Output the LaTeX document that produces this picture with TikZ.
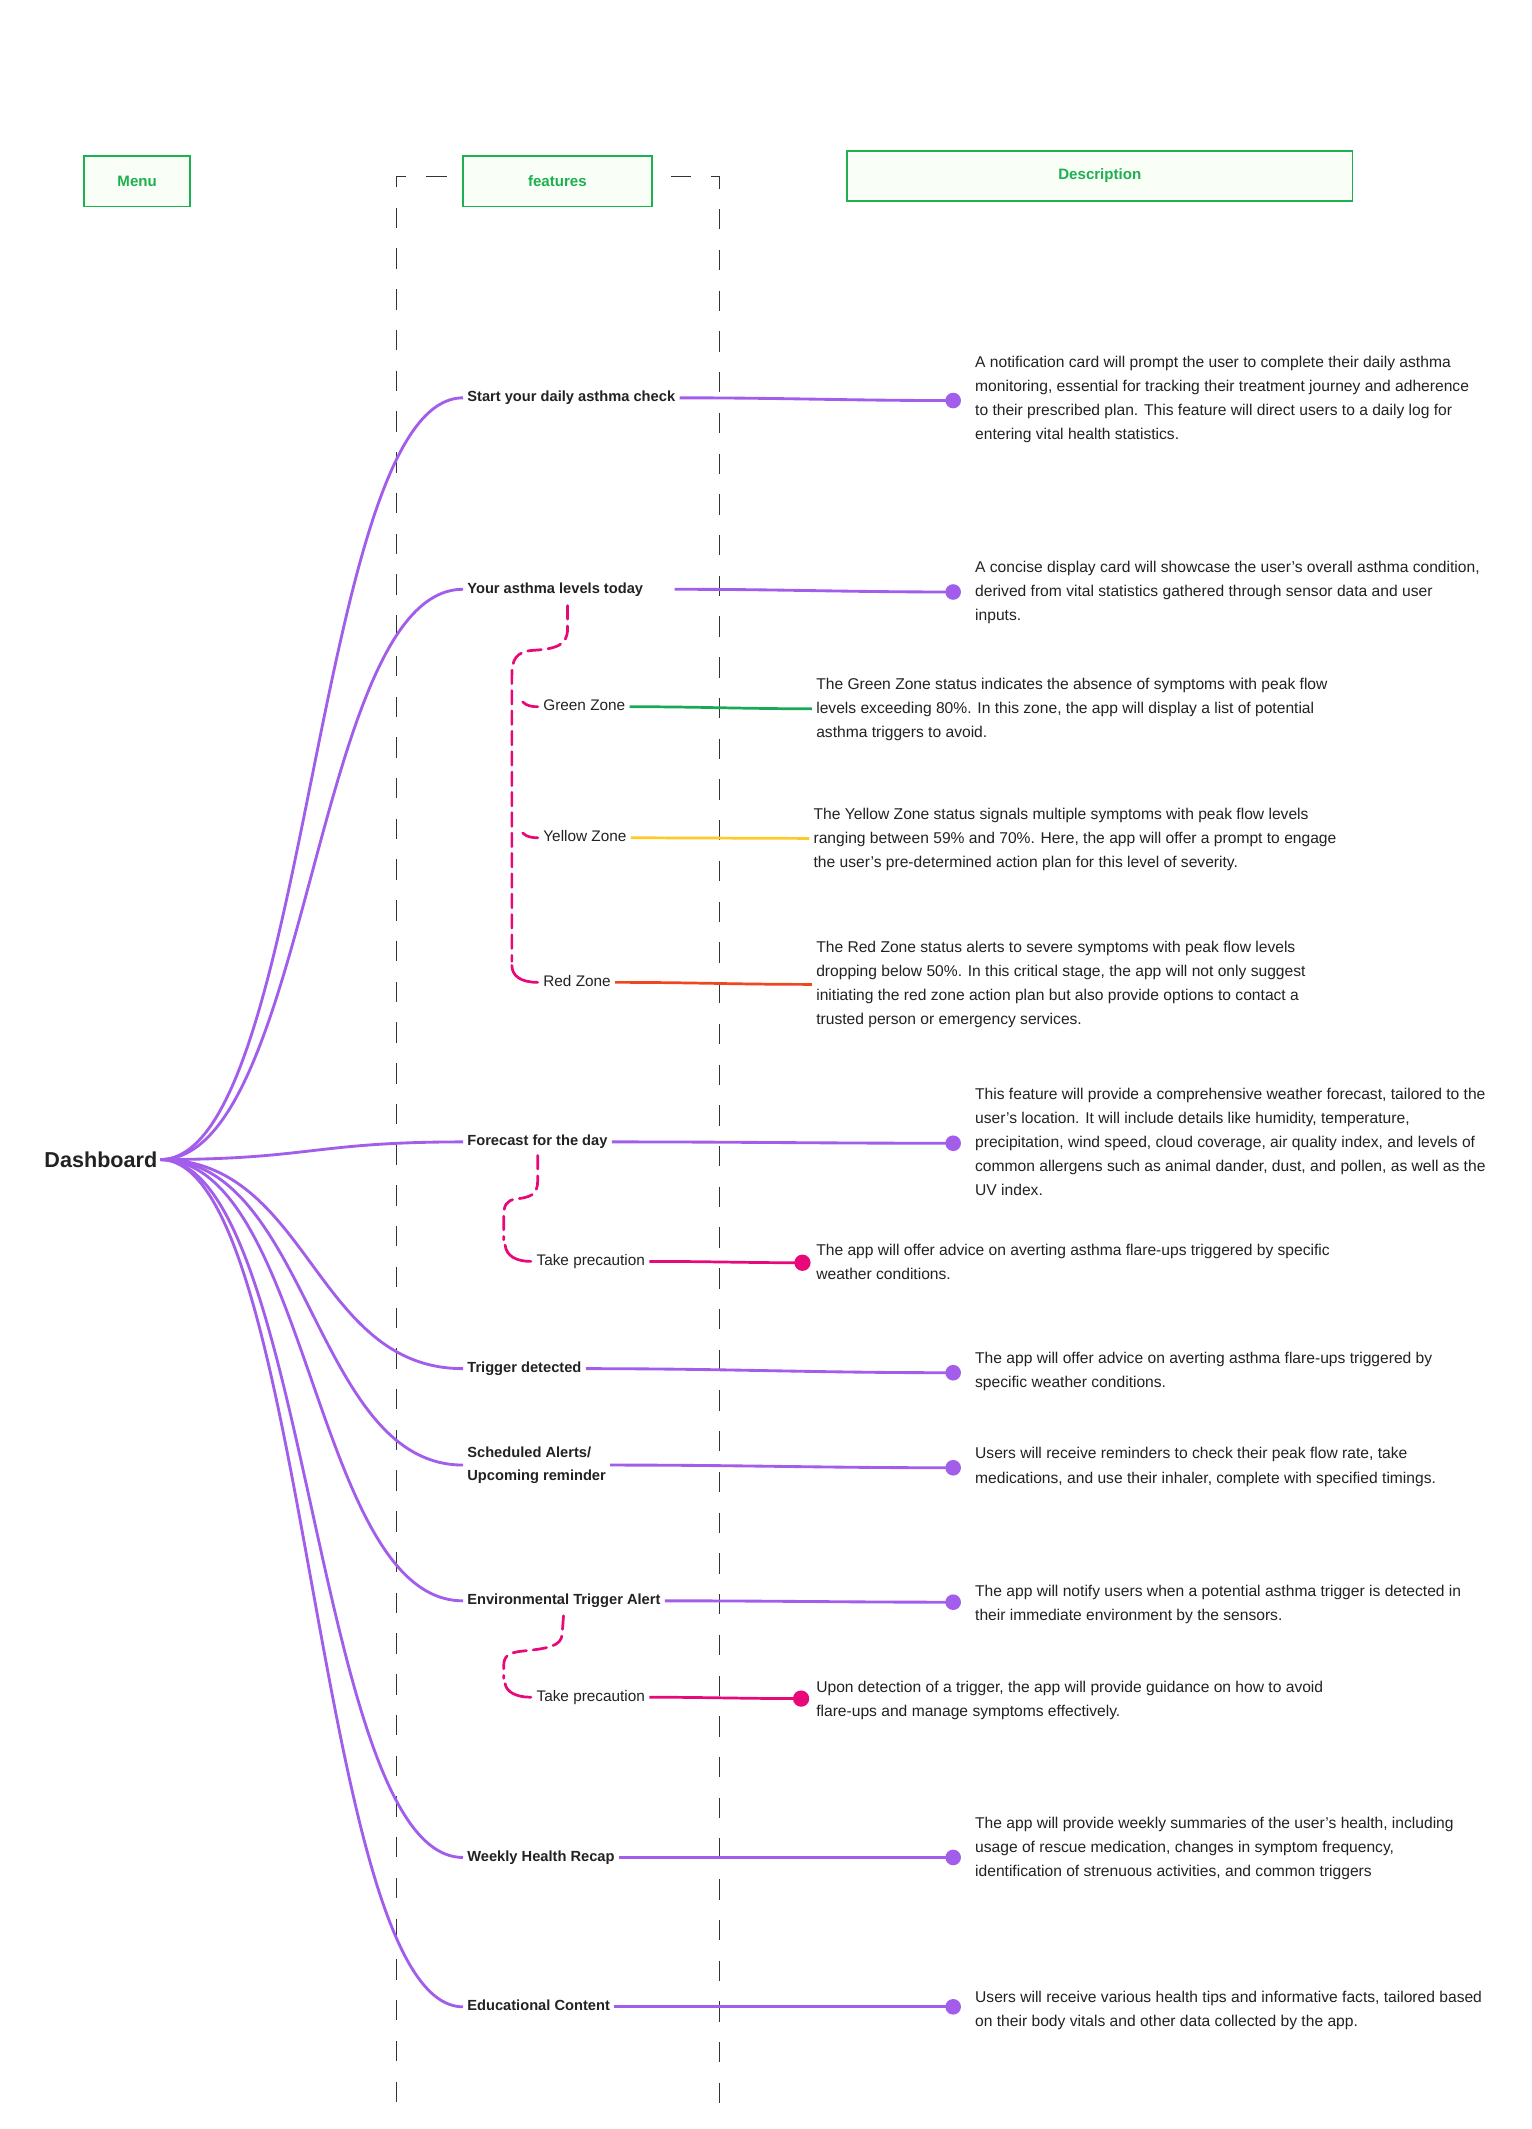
\documentclass[tikz,border=0pt]{standalone}
\usepackage{fontspec}
\setmainfont{Liberation Sans}
\definecolor{ink}{HTML}{222222}
\definecolor{pur}{HTML}{A25DEB}
\definecolor{pnk}{HTML}{E8087A}
\definecolor{gline}{HTML}{18A957}
\definecolor{yline}{HTML}{FFC928}
\definecolor{rline}{HTML}{F0461E}
\definecolor{hgreen}{HTML}{1DB04F}
\definecolor{hfill}{HTML}{F9FEF6}
\definecolor{guide}{HTML}{333333}
\tikzset{
  hdr/.style={draw=hgreen, fill=hfill, line width=1.2pt, text=hgreen, font=\fontsize{11.1}{13}\selectfont\bfseries, inner sep=0pt},
  feat/.style={anchor=west, inner xsep=3pt, inner ysep=0pt, text=ink, font=\fontsize{10.8}{17}\selectfont\bfseries, text height=7.8pt, text depth=2.2pt},
  zone/.style={anchor=west, inner xsep=3pt, inner ysep=0pt, text=ink, font=\fontsize{11.3}{17}\selectfont, text height=8pt, text depth=2.3pt},
  desc/.style={anchor=north west, inner sep=0pt, text=ink, align=left, font=\fontsize{11.5}{17.7}\selectfont},
  pline/.style={draw=pur, line width=2.1pt},
  pdot/.style={circle, fill=pur, inner sep=0pt, minimum size=11.5pt},
  kdot/.style={circle, fill=pnk, inner sep=0pt, minimum size=12pt},
  brace/.style={draw=pnk, line width=2pt, dash pattern=on 10pt off 5pt, line cap=round},
  twig/.style={draw=pnk, line width=2pt, line cap=round},
  guideline/.style={draw=guide, line width=0.9pt, dash pattern=on 15pt off 15pt},
}
\begin{document}
\begin{tikzpicture}[x=1pt, y=-1pt]
\useasboundingbox (0,0) rectangle (1128,1568);

% guide lines
\draw[guideline] (329,130) -- (292,130) -- (292,1562);
\draw[guideline] (494,130) -- (530,130) -- (530,1562);

% headers
\node[hdr, minimum width=78pt, minimum height=37pt] (hmenu) at (101,133.5) {Menu};
\node[hdr, minimum width=139pt, minimum height=37pt] (hfeat) at (410.5,133.5) {features};
\node[hdr, minimum width=372pt, minimum height=37pt] (hdesc) at (810,129.5) {Description};

% root
\node[anchor=east, inner sep=2pt, text=ink, font=\fontsize{15.9}{18}\selectfont\bfseries] (dash) at (118,854) {Dashboard};

% features
\node[feat] (f1) at (341,293) {Start your daily asthma check};
\node[feat] (f2) at (341,434) {Your asthma levels today};
\node[feat] (f3) at (341,841) {Forecast for the day};
\node[feat] (f4) at (341,1008) {Trigger detected};
\node[feat, align=left, text height=, text depth=] (f5) at (341,1079) {Scheduled Alerts/\\Upcoming reminder};
\node[feat] (f6) at (341,1179) {Environmental Trigger Alert};
\node[feat] (f7) at (341,1368) {Weekly Health Recap};
\node[feat] (f8) at (341,1478) {Educational Content};

% sub items
\node[zone] (zg) at (397,520.5) {Green Zone};
\node[zone] (zy) at (397,617) {Yellow Zone};
\node[zone] (zr) at (397,723.5) {Red Zone};
\node[zone] (tp1) at (392,929) {Take precaution};
\node[zone] (tp2) at (392,1250) {Take precaution};

% dots
\node[pdot] (d1) at (702,295) {};
\node[pdot] (d2) at (702,436) {};
\node[pdot] (d3) at (702,842) {};
\node[pdot] (d4) at (702,1011) {};
\node[pdot] (d5) at (702,1081) {};
\node[pdot] (d6) at (702,1180) {};
\node[pdot] (d7) at (702,1368) {};
\node[pdot] (d8) at (702,1478) {};
\node[kdot] (k1) at (591,930) {};
\node[kdot] (k2) at (590,1251) {};

% curves from root
\foreach \f in {f1,f2,f3,f4,f5,f6,f7,f8}{
  \draw[pline] (dash.east) .. controls +(110,0) and +(-110,0) .. (\f.west);
}

% right connectors
\draw[pline] (f1.east) to[out=0,in=180] (d1.center);
\draw[pline] ([xshift=20pt]f2.east) to[out=0,in=180] (d2.center);
\draw[pline] (f3.east) to[out=0,in=180] (d3.center);
\draw[pline] (f4.east) to[out=0,in=180] (d4.center);
\draw[pline] (f5.east) to[out=0,in=180] (d5.center);
\draw[pline] (f6.east) to[out=0,in=180] (d6.center);
\draw[pline] (f7.east) to[out=0,in=180] (d7.center);
\draw[pline] (f8.east) to[out=0,in=180] (d8.center);
\draw[draw=gline, line width=2pt] (zg.east) to[out=0,in=180] (598,522);
\draw[draw=yline, line width=2pt] (zy.east) -- (596,617.5);
\draw[draw=rline, line width=2pt] (zr.east) to[out=0,in=180] (598,725);
\draw[draw=pnk, line width=2pt] (tp1.east) to[out=0,in=180] (k1.center);
\draw[draw=pnk, line width=2pt] (tp2.east) to[out=0,in=180] (k2.center);

% braces
\coordinate (b1) at (418,446);
\draw[brace] (b1) -- (418,463) .. controls (418,475) and (410,478) .. (392,479) .. controls (380,480) and (377,486) .. (377,497) -- (377,708);
\draw[twig] (377,711) .. controls (377,719) and (384,723.5) .. ([xshift=-1pt]zr.west);
\draw[twig] (385,517) .. controls (388,520) and (392,520.5) .. ([xshift=-1pt]zg.west);
\draw[twig] (385,613.5) .. controls (388,616.5) and (392,617) .. ([xshift=-1pt]zy.west);
\draw[brace] (396,851) -- (396,870) .. controls (396,880) and (390,882) .. (380,883) .. controls (373,884) and (371,888) .. (371,895) -- (371,913);
\draw[twig] (372,917) .. controls (373,925) and (380,929) .. ([xshift=-1pt]tp1.west);
\draw[brace] (415,1190) -- (414,1204) .. controls (413,1212) and (405,1214) .. (385,1216) .. controls (374,1217) and (371,1220) .. (371,1227) -- (371,1236);
\draw[twig] (372,1240) .. controls (373,1246) and (380,1250) .. ([xshift=-1pt]tp2.west);

% descriptions
\node[desc] (t1) at (718,262) {A notification card will prompt the user to complete their daily asthma\\monitoring, essential for tracking their treatment journey and adherence\\to their prescribed plan. This feature will direct users to a daily log for\\entering vital health statistics.};
\node[desc] (t2) at (718,413) {A concise display card will showcase the user’s overall asthma condition,\\derived from vital statistics gathered through sensor data and user\\inputs.};
\node[desc] (t3) at (601,499) {The Green Zone status indicates the absence of symptoms with peak flow\\levels exceeding 80\%. In this zone, the app will display a list of potential\\asthma triggers to avoid.};
\node[desc] (t4) at (599,595) {The Yellow Zone status signals multiple symptoms with peak flow levels\\ranging between 59\% and 70\%. Here, the app will offer a prompt to engage\\the user’s pre-determined action plan for this level of severity.};
\node[desc] (t5) at (601,693) {The Red Zone status alerts to severe symptoms with peak flow levels\\dropping below 50\%. In this critical stage, the app will not only suggest\\initiating the red zone action plan but also provide options to contact a\\trusted person or emergency services.};
\node[desc] (t6) at (718,801) {This feature will provide a comprehensive weather forecast, tailored to the\\user’s location. It will include details like humidity, temperature,\\precipitation, wind speed, cloud coverage, air quality index, and levels of\\common allergens such as animal dander, dust, and pollen, as well as the\\UV index.};
\node[desc] (t7) at (601,916) {The app will offer advice on averting asthma flare-ups triggered by specific\\weather conditions.};
\node[desc] (t8) at (718,996) {The app will offer advice on averting asthma flare-ups triggered by\\specific weather conditions.};
\node[desc] (t9) at (718,1066) {Users will receive reminders to check their peak flow rate, take\\medications, and use their inhaler, complete with specified timings.};
\node[desc] (t10) at (718,1167) {The app will notify users when a potential asthma trigger is detected in\\their immediate environment by the sensors.};
\node[desc] (t11) at (601,1238) {Upon detection of a trigger, the app will provide guidance on how to avoid\\flare-ups and manage symptoms effectively.};
\node[desc] (t12) at (718,1338) {The app will provide weekly summaries of the user’s health, including\\usage of rescue medication, changes in symptom frequency,\\identification of strenuous activities, and common triggers};
\node[desc] (t13) at (718,1466) {Users will receive various health tips and informative facts, tailored based\\on their body vitals and other data collected by the app.};
\end{tikzpicture}
\end{document}
